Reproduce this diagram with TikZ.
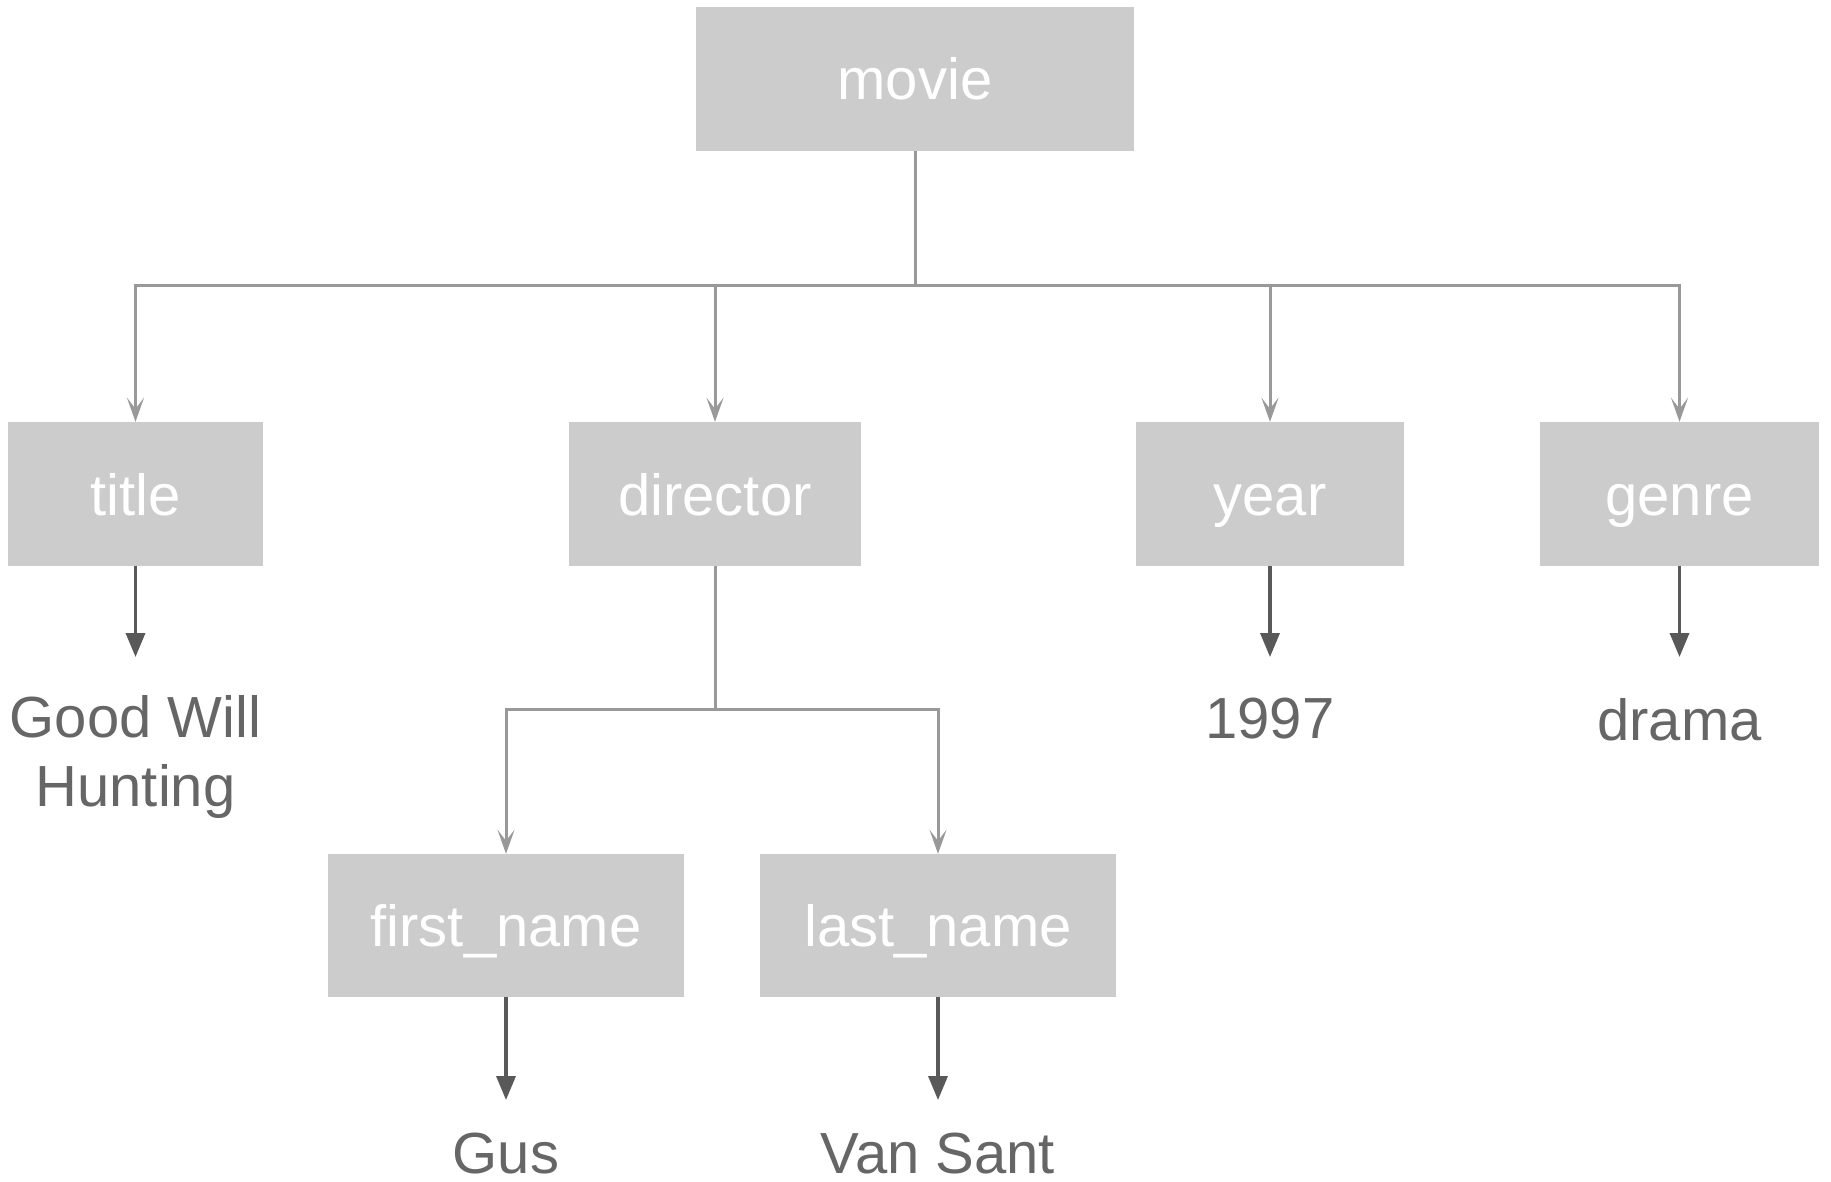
\documentclass[tikz,border=0pt]{standalone}
\usepackage{fontspec}
\setmainfont{Liberation Sans}
\usetikzlibrary{arrows.meta}
\definecolor{boxfill}{HTML}{CCCCCC}
\definecolor{gline}{HTML}{999999}
\definecolor{dline}{HTML}{595959}
\definecolor{valtext}{HTML}{666666}
\tikzset{
  keybox/.style={fill=boxfill, draw=none, inner sep=0pt, text=white,
    text height=42pt, text depth=0pt,
    font=\fontsize{58}{69}\selectfont},
  valnode/.style={inner sep=0pt, anchor=north, align=center, text=valtext,
    font=\fontsize{58}{69}\selectfont},
  gconn/.style={draw=gline, line width=3pt},
  garrow/.style={gconn, -{Stealth[length=24pt, width=17pt, inset=11pt]}},
  darrow/.style={draw=dline, line width=3.5pt, -{Triangle[length=24pt, width=19pt]}},
}
\begin{document}
\begin{tikzpicture}[x=1pt, y=-1pt]
\useasboundingbox[fill=white] (0,0) rectangle (1831,1182);
% boxes
\node[keybox, minimum width=438pt, minimum height=144pt] (movie) at (915,79) {movie};
\node[keybox, minimum width=255pt, minimum height=144pt] (title) at (135.5,494) {title};
\node[keybox, minimum width=292pt, minimum height=144pt] (director) at (715,494) {director};
\node[keybox, minimum width=268pt, minimum height=144pt] (year) at (1270,494) {year};
\node[keybox, minimum width=279pt, minimum height=144pt] (genre) at (1679.5,494) {genre};
\node[keybox, minimum width=356pt, minimum height=143pt] (first) at (506,925.5) {first\_name};
\node[keybox, minimum width=356pt, minimum height=143pt] (last) at (938,925.5) {last\_name};
% values
\node[valnode] (gwh) at (135.5,695) {Good Will\\Hunting};
\node[valnode] (v1997) at (1270,698) {1997};
\node[valnode] (drama) at (1679.5,698) {drama};
\node[valnode] (gus) at (506,1133) {Gus};
\node[valnode] (vansant) at (938,1133) {Van Sant};
% bus coordinates
\coordinate (bus) at (915,286);
\coordinate (dbus) at (715,709);
% top tree
\draw[gconn] (movie.south) -- (bus);
\draw[gconn] (title.north |- bus) -- (genre.north |- bus);
\draw[garrow] (bus) -| (title.north);
\draw[garrow] (bus) -| (director.north);
\draw[garrow] (bus) -| (year.north);
\draw[garrow] (bus) -| (genre.north);
% director subtree
\draw[gconn] (director.south) -- (dbus);
\draw[gconn] (first.north |- dbus) -- (last.north |- dbus);
\draw[garrow] (dbus) -| (first.north);
\draw[garrow] (dbus) -| (last.north);
% value arrows
\draw[darrow, shorten >=38pt] (title.south) -- (gwh.north);
\draw[darrow, shorten >=41pt] (year.south) -- (v1997.north);
\draw[darrow, shorten >=41pt] (genre.south) -- (drama.north);
\draw[darrow, shorten >=33pt] (first.south) -- (gus.north);
\draw[darrow, shorten >=33pt] (last.south) -- (vansant.north);
\end{tikzpicture}
\end{document}
